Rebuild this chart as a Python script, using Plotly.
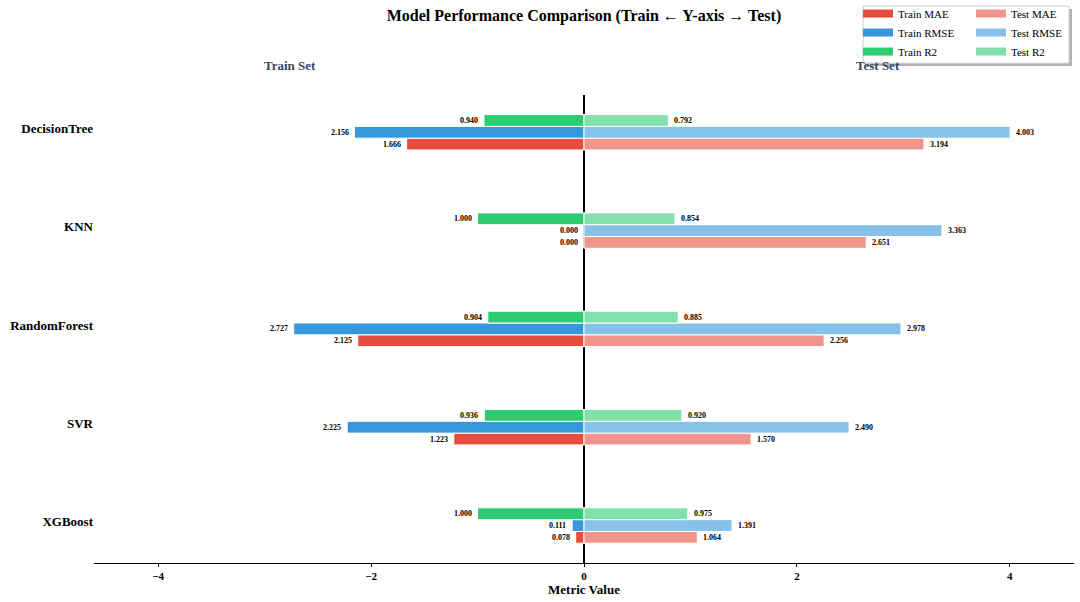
import plotly.graph_objects as go

# ---- data ----
models = ["DecisionTree", "KNN", "RandomForest", "SVR", "XGBoost"]
metric_names = ["MAE", "RMSE", "R2"]
train_mae = [1.666, 0.000, 2.125, 1.223, 0.078]
train_rmse = [2.156, 0.000, 2.727, 2.225, 0.111]
train_r2 = [0.940, 1.000, 0.904, 0.936, 1.000]
test_mae = [3.194, 2.651, 2.256, 1.570, 1.064]
test_rmse = [4.003, 3.363, 2.978, 2.490, 1.391]
test_r2 = [0.792, 0.854, 0.885, 0.920, 0.975]
x_ticks = [-4, -2, 0, 2, 4]

# ---- styling ----
FONT = "Liberation Serif, Times New Roman, serif"
train_colors = {"MAE": "#e74c3c", "RMSE": "#3498db", "R2": "#2ecc71"}
test_colors = {"MAE": "#f19489", "RMSE": "#85c1e9", "R2": "#82e0aa"}
offsets = {"MAE": 0.12, "RMSE": 0.0, "R2": -0.12}
bar_h = 0.12

train = {"MAE": train_mae, "RMSE": train_rmse, "R2": train_r2}
test = {"MAE": test_mae, "RMSE": test_rmse, "R2": test_r2}

fig = go.Figure()
annotations = []
pos = list(range(len(models)))
lbl_font = dict(family=FONT, size=8, color="black", weight="bold")

for m in metric_names:
    ys = [p + offsets[m] for p in pos]
    fig.add_trace(go.Bar(
        orientation="h", x=[-v for v in train[m]], y=ys, width=bar_h,
        name=f"Train {m}", showlegend=False,
        marker=dict(color=train_colors[m], line=dict(color="white", width=1)),
        hoverinfo="skip",
    ))
    fig.add_trace(go.Bar(
        orientation="h", x=test[m], y=ys, width=bar_h,
        name=f"Test {m}", showlegend=False,
        marker=dict(color=test_colors[m], line=dict(color="white", width=1)),
        hoverinfo="skip",
    ))
    for v, y in zip(train[m], ys):
        annotations.append(dict(x=-v, y=y, xref="x", yref="y", text=f"{v:.3f}",
                                showarrow=False, xanchor="right", xshift=-4, font=lbl_font))
    for v, y in zip(test[m], ys):
        annotations.append(dict(x=v, y=y, xref="x", yref="y", text=f"{v:.3f}",
                                showarrow=False, xanchor="left", xshift=4, font=lbl_font))

# legend entries (patch-like swatches)
for m in metric_names:
    fig.add_trace(go.Scatter(x=[None], y=[None], mode="lines", name=f"Train {m}",
                             legend="legend", line=dict(color=train_colors[m], width=8)))
for m in metric_names:
    fig.add_trace(go.Scatter(x=[None], y=[None], mode="lines", name=f"Test {m}",
                             legend="legend2", line=dict(color=test_colors[m], width=8)))

all_vals = train_mae + train_rmse + train_r2 + test_mae + test_rmse + test_r2
xlim = max(all_vals) * 1.15

set_font = dict(family=FONT, size=13, color="#34495e", weight="bold")
annotations.append(dict(x=-xlim * 0.6, y=1.064, xref="x", yref="paper", text="Train Set",
                        showarrow=False, yanchor="middle", font=set_font))
annotations.append(dict(x=xlim * 0.6, y=1.064, xref="x", yref="paper", text="Test Set",
                        showarrow=False, yanchor="middle", font=set_font))

# legend box (frame + shadow)
shapes = [
    dict(type="rect", xref="paper", yref="paper", x0=0.7878, x1=0.9980, y0=1.062, y1=1.1838,
         fillcolor="rgba(0,0,0,0.3)", line=dict(width=0), layer="below"),
    dict(type="rect", xref="paper", yref="paper", x0=0.7847, x1=0.9949, y0=1.068, y1=1.190,
         fillcolor="white", line=dict(color="#cccccc", width=1), layer="below"),
]

leg_font = dict(family=FONT, size=11, color="black")
fig.update_layout(
    width=1080, height=602,
    margin=dict(l=94, r=6, t=95, b=39, autoexpand=False),
    paper_bgcolor="white", plot_bgcolor="white",
    barmode="overlay",
    font=dict(family=FONT, color="black"),
    title=dict(text="Model Performance Comparison (Train \u2190 Y-axis \u2192 Test)",
               x=0.5, xref="paper", y=0.975, yanchor="middle",
               font=dict(family=FONT, size=16, color="black", weight="bold")),
    xaxis=dict(range=[-xlim, xlim], tickvals=x_ticks, ticks="outside", ticklen=3,
               tickcolor="black", showline=True, linecolor="black", linewidth=1.2,
               zeroline=True, zerolinecolor="black", zerolinewidth=1.5, showgrid=False,
               tickfont=dict(family=FONT, size=11, color="black", weight="bold"),
               title=dict(text="Metric Value", standoff=2,
                          font=dict(family=FONT, size=13, color="black", weight="bold"))),
    yaxis=dict(range=[4.381, -0.379], tickvals=[p - 0.04 for p in pos], ticktext=models,
               showgrid=False, showline=False, zeroline=False, ticks="",
               tickfont=dict(family=FONT, size=13, color="black", weight="bold")),
    legend=dict(x=0.7796, xanchor="left", y=1.205, yanchor="top", bgcolor="rgba(0,0,0,0)",
                borderwidth=0, font=leg_font),
    legend2=dict(x=0.8949, xanchor="left", y=1.205, yanchor="top", bgcolor="rgba(0,0,0,0)",
                 borderwidth=0, font=leg_font),
    annotations=annotations,
    shapes=shapes,
)

fig.write_html("out.html", config={"displayModeBar": False},
               post_script="document.body.style.margin='0';")
